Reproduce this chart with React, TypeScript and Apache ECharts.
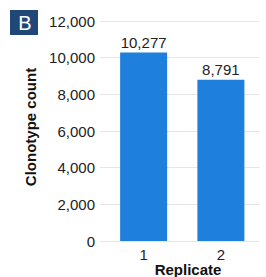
import React, { useEffect, useRef } from "react";
import * as echarts from "echarts";

const categories = ["1", "2"];
const clonotypeCounts = [10277, 8791];
const yTicks = [0, 2000, 4000, 6000, 8000, 10000, 12000];

const fmt = (v: number) => v.toLocaleString("en-US");

export default function App() {
  const ref = useRef<HTMLDivElement>(null);
  useEffect(() => {
    if (!ref.current) return;
    const chart = echarts.init(ref.current, null, { renderer: "svg" });
    const font = "'Liberation Sans', Arial, sans-serif";
    chart.setOption({
      animation: false,
      grid: { left: 105, right: 6.5, top: 21, bottom: 36 },
      xAxis: {
        type: "category",
        data: categories,
        axisLine: { show: false },
        axisTick: { show: false },
        axisLabel: { margin: 6, fontSize: 15, color: "#222", fontFamily: font },
      },
      yAxis: {
        type: "value",
        min: yTicks[0],
        max: yTicks[yTicks.length - 1],
        interval: 2000,
        axisLine: { show: false },
        axisTick: { show: true, length: 5, lineStyle: { color: "#e6e6e6", width: 1 } },
        splitLine: { lineStyle: { color: "#e6e6e6", width: 1 } },
        axisLabel: {
          margin: 10,
          fontSize: 15,
          color: "#222",
          fontFamily: font,
          formatter: (v: number) => fmt(v),
        },
      },
      series: [
        {
          type: "bar",
          data: clonotypeCounts,
          barWidth: 47,
          itemStyle: { color: "#1f7fdc" },
          label: {
            show: true,
            position: "top",
            distance: 3,
            fontSize: 15,
            color: "#222",
            fontFamily: font,
            formatter: (p: any) => fmt(p.value),
          },
        },
      ],
      graphic: [
        {
          type: "rect",
          shape: { x: 10, y: 10, width: 28, height: 25 },
          style: { fill: "#1f4778" },
        },
        {
          type: "text",
          x: 25,
          y: 22.5,
          style: {
            text: "B",
            fill: "#fff",
            font: `20px ${font}`,
            align: "center",
            verticalAlign: "middle",
          },
        },
        {
          type: "text",
          x: 30,
          y: 127,
          rotation: Math.PI / 2,
          style: {
            text: "Clonotype count",
            fill: "#111",
            font: `bold 15px ${font}`,
            align: "center",
            verticalAlign: "middle",
          },
        },
        {
          type: "text",
          x: 188,
          y: 269,
          style: {
            text: "Replicate",
            fill: "#111",
            font: `bold 15px ${font}`,
            align: "center",
            verticalAlign: "middle",
          },
        },
      ],
    });
    return () => chart.dispose();
  }, []);
  return (
    <div
      ref={ref}
      style={{ position: "fixed", left: 0, top: 0, width: 266, height: 277, background: "#fff" }}
    />
  );
}
